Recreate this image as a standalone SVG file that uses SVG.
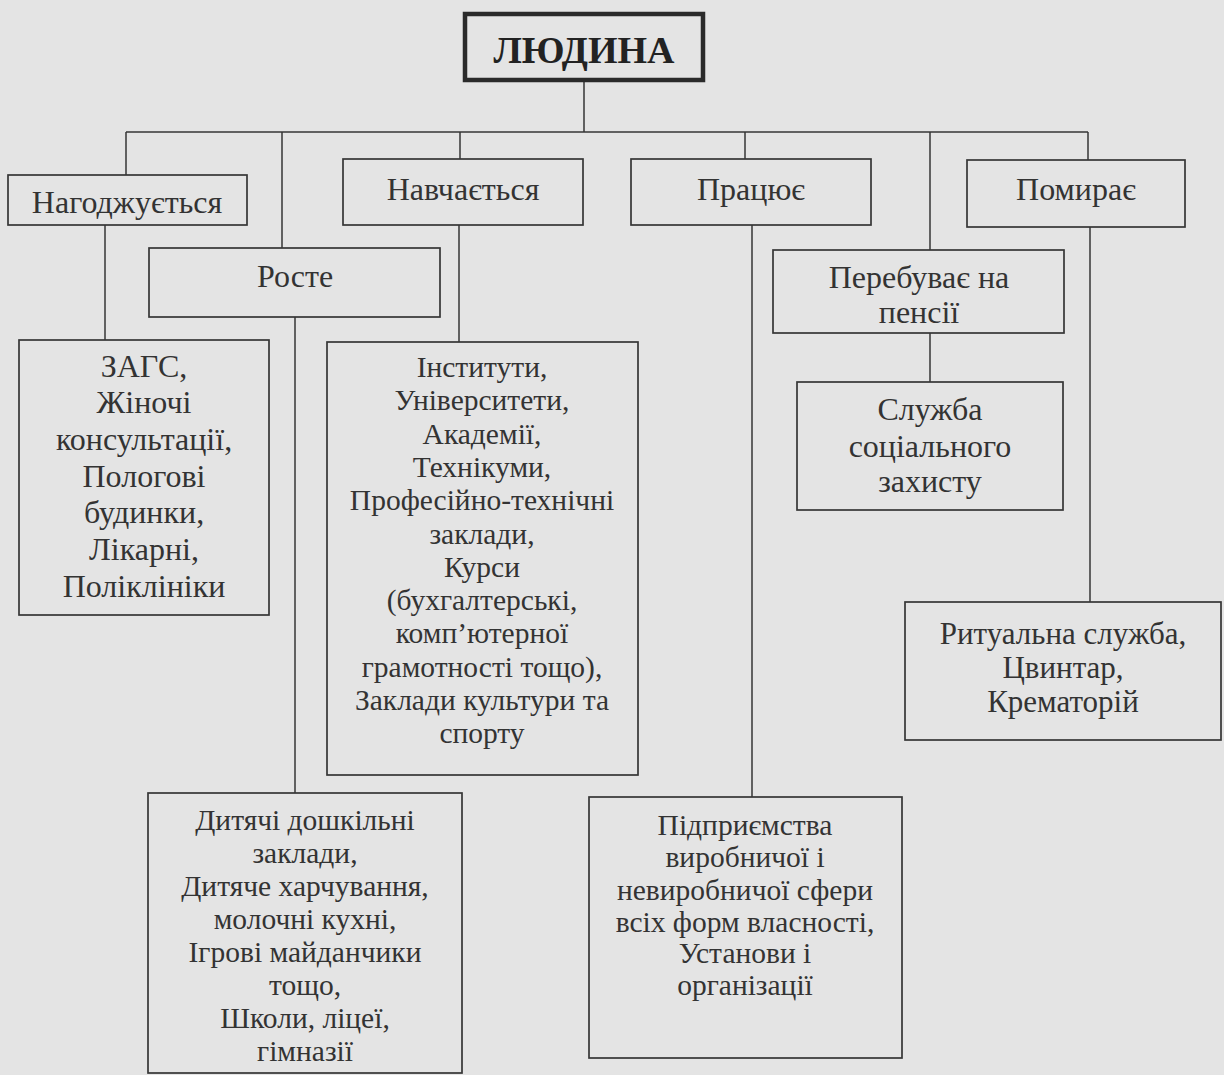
<svg xmlns="http://www.w3.org/2000/svg" width="1224" height="1075" viewBox="0 0 1224 1075">
<style>
.bg{fill:#e4e4e4}
.box{fill:none;stroke:#363636;stroke-width:1.7}
.main{fill:none;stroke:#2a2a2a;stroke-width:4.5}
.lbl{font-family:"Liberation Serif","Times New Roman",serif;font-size:32px;fill:#333;text-anchor:middle}
.sm{font-size:29.5px}
.md{font-size:31px}
.title{font-family:"Liberation Serif","Times New Roman",serif;font-size:38px;font-weight:bold;fill:#222;text-anchor:middle}
.conn line{stroke:#363636;stroke-width:1.5}
</style>
<rect class="bg" x="0" y="0" width="1224" height="1075"/>
<g id="connectors" class="conn">
<line x1="584" y1="82" x2="584" y2="132"/>
<line x1="126" y1="132" x2="1088" y2="132"/>
<line x1="126" y1="132" x2="126" y2="175"/>
<line x1="282" y1="132" x2="282" y2="248"/>
<line x1="460" y1="132" x2="460" y2="159"/>
<line x1="745" y1="132" x2="745" y2="159"/>
<line x1="930" y1="132" x2="930" y2="250"/>
<line x1="1088" y1="132" x2="1088" y2="160"/>
<line x1="105" y1="225" x2="105" y2="340"/>
<line x1="459" y1="225" x2="459" y2="342"/>
<line x1="295" y1="317" x2="295" y2="793"/>
<line x1="752" y1="225" x2="752" y2="797"/>
<line x1="930" y1="333" x2="930" y2="382"/>
<line x1="1090" y1="227" x2="1090" y2="602"/>
</g>
<g id="n-lyudyna">
<rect class="main" x="465" y="14" width="238" height="66"/>
<text class="title" x="584" y="63">ЛЮДИНА</text>
</g>
<g id="n-narodzhuietsia">
<rect class="box" x="8" y="175" width="239" height="50"/>
<text class="lbl" x="127" y="213">Нагоджується</text>
</g>
<g id="n-navchaietsia">
<rect class="box" x="343" y="159" width="240" height="66"/>
<text class="lbl" x="463" y="200">Навчається</text>
</g>
<g id="n-roste">
<rect class="box" x="149" y="248" width="291" height="69"/>
<text class="lbl" x="295" y="287">Росте</text>
</g>
<g id="n-pratsiuie">
<rect class="box" x="631" y="159" width="240" height="66"/>
<text class="lbl" x="751" y="200">Працює</text>
</g>
<g id="n-pomyraie">
<rect class="box" x="967" y="160" width="218" height="67"/>
<text class="lbl" x="1076" y="200">Помирає</text>
</g>
<g id="n-pensiia">
<rect class="box" x="773" y="250" width="291" height="83"/>
<text class="lbl" x="919" y="288">Перебуває на</text>
<text class="lbl" x="919" y="323">пенсії</text>
</g>
<g id="n-zags">
<rect class="box" x="19" y="340" width="250" height="275"/>
<text class="lbl" x="144" y="377">ЗАГС,</text>
<text class="lbl" x="144" y="413">Жіночі</text>
<text class="lbl" x="144" y="450">консультації,</text>
<text class="lbl" x="144" y="487">Пологові</text>
<text class="lbl" x="144" y="523">будинки,</text>
<text class="lbl" x="144" y="560">Лікарні,</text>
<text class="lbl" x="144" y="597">Поліклініки</text>
</g>
<g id="n-osvita">
<rect class="box" x="327" y="342" width="311" height="433"/>
<text class="lbl sm" x="482" y="377">Інститути,</text>
<text class="lbl sm" x="482" y="410">Університети,</text>
<text class="lbl sm" x="482" y="444">Академії,</text>
<text class="lbl sm" x="482" y="477">Технікуми,</text>
<text class="lbl sm" x="482" y="510">Професійно-технічні</text>
<text class="lbl sm" x="482" y="544">заклади,</text>
<text class="lbl sm" x="482" y="577">Курси</text>
<text class="lbl sm" x="482" y="610">(бухгалтерські,</text>
<text class="lbl sm" x="482" y="643">комп’ютерної</text>
<text class="lbl sm" x="482" y="677">грамотності тощо),</text>
<text class="lbl sm" x="482" y="710">Заклади культури та</text>
<text class="lbl sm" x="482" y="743">спорту</text>
</g>
<g id="n-soc">
<rect class="box" x="797" y="382" width="266" height="128"/>
<text class="lbl" x="930" y="420">Служба</text>
<text class="lbl" x="930" y="457">соціального</text>
<text class="lbl" x="930" y="492">захисту</text>
</g>
<g id="n-ritual">
<rect class="box" x="905" y="602" width="316" height="138"/>
<text class="lbl md" x="1063" y="644">Ритуальна служба,</text>
<text class="lbl md" x="1063" y="678">Цвинтар,</text>
<text class="lbl md" x="1063" y="712">Крематорій</text>
</g>
<g id="n-dity">
<rect class="box" x="148" y="793" width="314" height="280"/>
<text class="lbl sm" x="305" y="830">Дитячі дошкільні</text>
<text class="lbl sm" x="305" y="863">заклади,</text>
<text class="lbl sm" x="305" y="896">Дитяче харчування,</text>
<text class="lbl sm" x="305" y="929">молочні кухні,</text>
<text class="lbl sm" x="305" y="962">Ігрові майданчики</text>
<text class="lbl sm" x="305" y="995">тощо,</text>
<text class="lbl sm" x="305" y="1028">Школи, ліцеї,</text>
<text class="lbl sm" x="305" y="1061">гімназії</text>
</g>
<g id="n-pidpr">
<rect class="box" x="589" y="797" width="313" height="261"/>
<text class="lbl sm" x="745" y="835">Підприємства</text>
<text class="lbl sm" x="745" y="867">виробничої і</text>
<text class="lbl sm" x="745" y="900">невиробничої сфери</text>
<text class="lbl sm" x="745" y="932">всіх форм власності,</text>
<text class="lbl sm" x="745" y="963">Установи і</text>
<text class="lbl sm" x="745" y="995">організації</text>
</g>
</svg>
